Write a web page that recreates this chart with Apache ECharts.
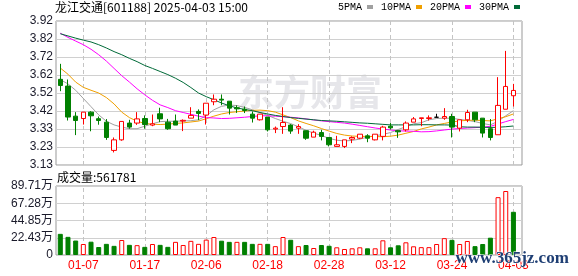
<!DOCTYPE html>
<html><head><meta charset="utf-8">
<script src="https://cdn.jsdelivr.net/npm/echarts@6/dist/echarts.min.js"></script>
<style>html,body{margin:0;padding:0;background:#fff}#c{width:578px;height:276px}</style>
</head><body><div id="c"></div>
<script>
const dates = ['01-02','01-03','01-06','01-07','01-08','01-09','01-10','01-13','01-14','01-15','01-16','01-17','01-20','01-21','01-22','01-23','01-24','01-27',
'02-05','02-06','02-07','02-10','02-11','02-12','02-13','02-14','02-17','02-18','02-19','02-20','02-21','02-24','02-25','02-26','02-27','02-28',
'03-03','03-04','03-05','03-06','03-07','03-10','03-11','03-12','03-13','03-14','03-17','03-18','03-19','03-20','03-21','03-24','03-25','03-26','03-27','03-28','03-31',
'04-01','04-02','04-03'];
const opens  = [3.600,3.563,3.398,3.385,3.420,3.384,3.365,3.210,3.268,3.360,3.360,3.385,3.349,3.411,3.365,3.371,3.371,3.387,3.424,3.404,3.477,3.491,3.480,3.444,3.436,3.409,3.378,3.393,3.327,3.341,3.349,3.332,3.318,3.283,3.308,3.281,3.232,3.232,3.272,3.277,3.290,3.268,3.287,3.343,3.318,3.323,3.365,3.385,3.385,3.392,3.387,3.396,3.332,3.378,3.420,3.387,3.329,3.296,3.436,3.510];
const closes = [3.566,3.393,3.374,3.420,3.400,3.374,3.281,3.268,3.369,3.338,3.383,3.352,3.356,3.383,3.329,3.349,3.375,3.402,3.413,3.469,3.491,3.486,3.442,3.438,3.429,3.387,3.409,3.323,3.332,3.363,3.316,3.341,3.277,3.310,3.287,3.241,3.241,3.268,3.281,3.299,3.277,3.299,3.338,3.334,3.312,3.360,3.383,3.389,3.389,3.392,3.396,3.338,3.378,3.418,3.378,3.305,3.281,3.457,3.561,3.539];
const lows   = [3.535,3.374,3.294,3.352,3.315,3.351,3.268,3.199,3.263,3.329,3.350,3.329,3.343,3.365,3.323,3.349,3.316,3.387,3.376,3.352,3.458,3.458,3.407,3.416,3.415,3.363,3.374,3.314,3.305,3.301,3.301,3.301,3.268,3.283,3.265,3.232,3.232,3.223,3.250,3.272,3.255,3.265,3.265,3.325,3.279,3.314,3.365,3.343,3.374,3.392,3.378,3.281,3.314,3.365,3.365,3.281,3.265,3.296,3.436,3.451];
const highs  = [3.685,3.599,3.420,3.420,3.425,3.396,3.382,3.281,3.369,3.378,3.420,3.402,3.407,3.444,3.383,3.407,3.380,3.447,3.435,3.469,3.517,3.517,3.480,3.457,3.451,3.424,3.409,3.393,3.341,3.447,3.354,3.354,3.318,3.318,3.323,3.281,3.290,3.268,3.287,3.299,3.299,3.299,3.345,3.360,3.320,3.369,3.393,3.389,3.402,3.411,3.442,3.411,3.378,3.433,3.420,3.387,3.382,3.612,3.756,3.575];
const volumes = [275000,236000,188000,143000,173000,104000,145000,119000,195000,132000,128000,106000,143000,132000,106000,171000,130000,184000,145000,200000,234000,186000,171000,171000,171000,145000,145000,145000,115000,234000,198000,115000,130000,91000,130000,120000,100000,78000,87000,100000,87000,87000,191000,100000,126000,165000,113000,102000,102000,143000,219000,197000,143000,182000,115000,143000,225000,752000,832000,561781];
const volUp = [0,0,0,1,0,0,0,0,1,0,1,0,1,0,0,1,1,1,1,1,1,0,0,1,0,0,1,0,1,1,0,1,0,1,0,0,1,1,1,1,0,1,1,0,0,1,1,1,1,1,1,0,1,1,0,0,0,1,1,0];
const ma5  = [3.598,3.575,3.540,3.495,3.450,3.405,3.370,3.350,3.338,3.329,3.329,3.343,3.356,3.368,3.370,3.370,3.372,3.373,3.378,3.400,3.433,3.452,3.459,3.456,3.446,3.433,3.418,3.402,3.385,3.370,3.357,3.340,3.320,3.305,3.292,3.276,3.266,3.262,3.265,3.272,3.283,3.290,3.298,3.308,3.325,3.340,3.356,3.362,3.378,3.385,3.387,3.386,3.380,3.375,3.368,3.358,3.350,3.370,3.400,3.428];
const ma10 = [3.662,3.628,3.585,3.556,3.540,3.525,3.500,3.465,3.420,3.390,3.370,3.358,3.354,3.352,3.354,3.358,3.361,3.366,3.371,3.384,3.398,3.410,3.418,3.422,3.426,3.430,3.431,3.428,3.420,3.405,3.390,3.372,3.358,3.345,3.330,3.316,3.303,3.294,3.289,3.287,3.287,3.286,3.285,3.288,3.294,3.304,3.314,3.328,3.338,3.350,3.358,3.366,3.372,3.375,3.376,3.374,3.372,3.384,3.395,3.410];
const ma20 = [3.853,3.830,3.810,3.790,3.765,3.735,3.700,3.660,3.620,3.585,3.548,3.515,3.485,3.460,3.445,3.428,3.418,3.408,3.398,3.390,3.388,3.385,3.386,3.389,3.392,3.396,3.400,3.400,3.398,3.395,3.392,3.388,3.383,3.377,3.372,3.368,3.364,3.360,3.354,3.347,3.340,3.333,3.327,3.322,3.318,3.316,3.315,3.312,3.313,3.317,3.322,3.327,3.330,3.333,3.335,3.338,3.342,3.355,3.368,3.380];
const ma30 = [3.850,3.838,3.826,3.815,3.805,3.790,3.772,3.752,3.735,3.715,3.697,3.676,3.660,3.643,3.626,3.606,3.583,3.555,3.525,3.505,3.488,3.470,3.455,3.443,3.435,3.428,3.418,3.410,3.402,3.396,3.390,3.386,3.382,3.378,3.374,3.372,3.370,3.367,3.364,3.361,3.359,3.356,3.353,3.350,3.350,3.350,3.350,3.351,3.351,3.350,3.350,3.349,3.340,3.338,3.338,3.337,3.336,3.337,3.340,3.344];
const priceTicks = ['3.13','3.23','3.33','3.42','3.52','3.62','3.72','3.82','3.92'];
const volTicks = ['0','22.43万','44.85万','67.28万','89.71万'];
const priceMin = 3.13, priceMax = 3.92, volMax = 897100;
const labelDates = ['01-07','01-17','02-06','02-18','02-28','03-12','03-24','04-03'];
const maNames = ['5PMA','10PMA','20PMA','30PMA'];

const RED = '#ff0000', GREEN = '#008000';
const maColors = ['#a0a0a0','#f0a000','#ff00ff','#006a38'];
const numFont = 'Liberation Sans, Noto Sans CJK SC, sans-serif';

const chart = echarts.init(document.getElementById('c'), null, {renderer:'canvas'});
const kData = dates.map((d,i)=>[opens[i],closes[i],lows[i],highs[i]]);
const vData = volumes.map((v,i)=>({value:v, itemStyle: volUp[i] ?
  {color:'#ffffff', borderColor:RED, borderWidth:1} : {color:GREEN, borderColor:GREEN, borderWidth:1}}));
const guide = {silent:true, symbol:['none','none'], z:1, animation:false,
  label:{show:false}, lineStyle:{type:[4,3], color:'#c4c4c4', width:1},
  data: labelDates.map(d=>({xAxis:d}))};

const frameL = 56, frameW = 466, dataL = 56.46, dataW = 460.8;
const option = {
  animation:false,
  backgroundColor:'#fff',
  title:[
    {text:'龙江交通[601188] 2025-04-03 15:00', left:55, top:1, padding:0,
     textStyle:{fontSize:12, fontWeight:'normal', color:'#000', fontFamily:'Noto Sans CJK SC, sans-serif'}},
    {text:'成交量:' + volumes[volumes.length-1], left:57, top:171, padding:0,
     textStyle:{fontSize:12, fontWeight:'normal', color:'#000', fontFamily:'Noto Sans CJK SC, sans-serif'}}
  ],
  legend:{left:338, top:2, padding:0, align:'right', itemGap:8, itemWidth:6, itemHeight:4,
    icon:'rect', data:maNames,
    textStyle:{fontSize:10, color:'#000', fontFamily:'Liberation Mono, monospace'}},
  grid:[
    {left:frameL, top:21, width:frameW, height:144, show:true, borderColor:'#999', borderWidth:1, backgroundColor:'transparent'},
    {left:dataL, top:21, width:dataW, height:144},
    {left:frameL, top:186, width:frameW, height:69, show:true, borderColor:'#999', borderWidth:1, backgroundColor:'transparent'},
    {left:dataL, top:186, width:dataW, height:69}
  ],
  xAxis:[
    {gridIndex:0, type:'value', min:0, max:1, show:false},
    {gridIndex:1, type:'category', data:dates, boundaryGap:true, show:false},
    {gridIndex:2, type:'value', min:0, max:1, show:false},
    {gridIndex:3, type:'category', data:dates, boundaryGap:true,
     axisLine:{show:false}, axisTick:{show:false}, splitLine:{show:false},
     axisLabel:{show:true, margin:5, color:RED, fontSize:12, fontFamily:numFont,
       interval:(idx, val)=>labelDates.indexOf(val) >= 0}}
  ],
  yAxis:[
    {gridIndex:0, type:'value', min:0, max:8, interval:1,
     axisLine:{show:false}, axisTick:{show:false},
     splitLine:{show:true, lineStyle:{color:'#d0d0d0', width:1}},
     axisLabel:{margin:3, color:'#1a1a2a', fontSize:12, fontFamily:numFont, formatter:(v)=>priceTicks[v]}},
    {gridIndex:1, type:'value', min:priceMin, max:priceMax, show:false, splitLine:{show:false}},
    {gridIndex:2, type:'value', min:0, max:4, interval:1,
     axisLine:{show:false}, axisTick:{show:false},
     splitLine:{show:true, lineStyle:{color:'#d0d0d0', width:1}},
     axisLabel:{margin:3, color:'#1a1a2a', fontSize:12, fontFamily:numFont, formatter:(v)=>volTicks[v]}},
    {gridIndex:3, type:'value', min:0, max:volMax, show:false, splitLine:{show:false}}
  ],
  series:[
    {name:'K', type:'candlestick', xAxisIndex:1, yAxisIndex:1, data:kData, barWidth:5, z:3,
     itemStyle:{color:'#ffffff', color0:GREEN, borderColor:RED, borderColor0:GREEN, borderColorDoji:'#000', borderWidth:1},
     markLine:guide},
    ...[ma5,ma10,ma20,ma30].map((arr,k)=>({name:maNames[k], type:'line', xAxisIndex:1, yAxisIndex:1,
      data:arr, symbol:'none', z:2, lineStyle:{width:1, color:maColors[k]}, itemStyle:{color:maColors[k]}})),
    {name:'VOL', type:'bar', xAxisIndex:3, yAxisIndex:3, data:vData, barWidth:5, z:3, markLine:guide}
  ],
  graphic:[
    {type:'text', left:238, top:74, z:0, silent:true,
     style:{text:'东方财富', fill:'#e6e6ea', font:'bold 36px "Noto Sans CJK SC"'}},
    {type:'text', left:455, top:250, z:100, silent:true,
     style:{text:'www.365jz.com', fill:'#1f3f74', stroke:'#fff', lineWidth:1, font:'bold 17px "Liberation Serif"'}}
  ]
};
chart.setOption(option);
</script>
</body></html>
